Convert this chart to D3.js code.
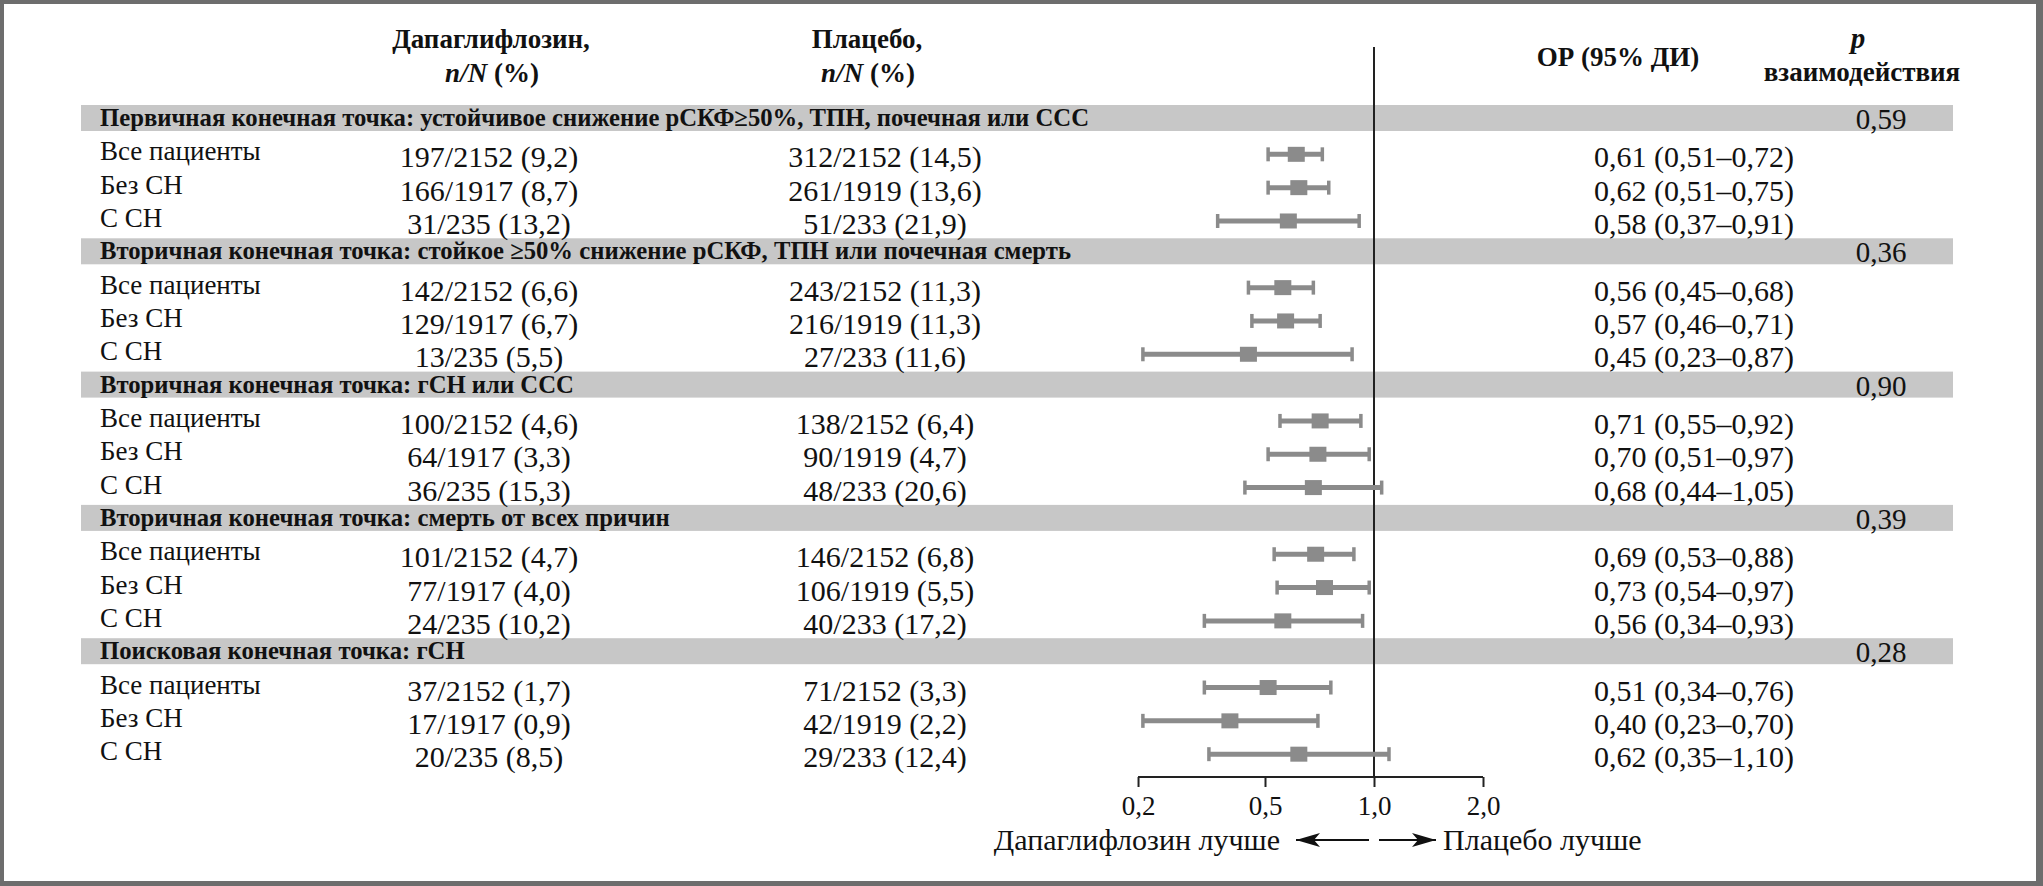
<!DOCTYPE html>
<html>
<head>
<meta charset="utf-8">
<script src="https://cdn.jsdelivr.net/npm/d3@7/dist/d3.min.js"></script>
<style>
  html, body { margin: 0; padding: 0; background: #fff; }
  svg text { font-family: "Liberation Serif", "Times New Roman", serif; fill: #111; }
</style>
</head>
<body>
<svg id="chart" width="2043" height="886"></svg>
<script>
// ---------------- DATA ----------------
const groupTitles = [
  "Первичная конечная точка: устойчивое снижение рСКФ≥50%, ТПН, почечная или ССС",
  "Вторичная конечная точка: стойкое ≥50% снижение рСКФ, ТПН или почечная смерть",
  "Вторичная конечная точка: гСН или ССС",
  "Вторичная конечная точка: смерть от всех причин",
  "Поисковая конечная точка: гСН"
];
const pInteraction = ["0,59", "0,36", "0,90", "0,39", "0,28"];
const subgroups = ["Все пациенты", "Без СН", "С СН"];

const dapaEvents = [197, 166, 31, 142, 129, 13, 100, 64, 36, 101, 77, 24, 37, 17, 20];
const dapaN      = [2152, 1917, 235, 2152, 1917, 235, 2152, 1917, 235, 2152, 1917, 235, 2152, 1917, 235];
const dapaPct    = [9.2, 8.7, 13.2, 6.6, 6.7, 5.5, 4.6, 3.3, 15.3, 4.7, 4.0, 10.2, 1.7, 0.9, 8.5];

const placEvents = [312, 261, 51, 243, 216, 27, 138, 90, 48, 146, 106, 40, 71, 42, 29];
const placN      = [2152, 1919, 233, 2152, 1919, 233, 2152, 1919, 233, 2152, 1919, 233, 2152, 1919, 233];
const placPct    = [14.5, 13.6, 21.9, 11.3, 11.3, 11.6, 6.4, 4.7, 20.6, 6.8, 5.5, 17.2, 3.3, 2.2, 12.4];

const hr     = [0.61, 0.62, 0.58, 0.56, 0.57, 0.45, 0.71, 0.70, 0.68, 0.69, 0.73, 0.56, 0.51, 0.40, 0.62];
const ciLow  = [0.51, 0.51, 0.37, 0.45, 0.46, 0.23, 0.55, 0.51, 0.44, 0.53, 0.54, 0.34, 0.34, 0.23, 0.35];
const ciHigh = [0.72, 0.75, 0.91, 0.68, 0.71, 0.87, 0.92, 0.97, 1.05, 0.88, 0.97, 0.93, 0.76, 0.70, 1.10];

// axis ticks as placed in the original figure
const tickPositions = [0.223, 0.5, 1, 2];
const tickLabels = ["0,2", "0,5", "1,0", "2,0"];

// ---------------- LAYOUT ----------------
const W = 2043, H = 886;
const svg = d3.select("#chart");

const f1 = v => d3.format(".1f")(v).replace(".", ",");
const f2 = v => d3.format(".2f")(v).replace(".", ",");

const x = d3.scaleLog().domain([0.5, 2]).range([1265, 1483]);
const nRowsPerGroup = 4;
const y = d3.scaleLinear().domain([0, groupTitles.length * nRowsPerGroup]).range([118, 118 + 133.3 * groupTitles.length]);

const colDapa = 489, colPlac = 885, colHR = 1694, colP = 1881;
const bandX0 = 81, bandX1 = 1953, bandH = 26;
const gray = "#8b8b8b";

// frame
svg.append("rect").attr("x", 0).attr("y", 0).attr("width", W).attr("height", H).attr("fill", "#6d6d6d");
svg.append("rect").attr("x", 4).attr("y", 4).attr("width", 2036 - 4).attr("height", 881 - 4).attr("fill", "#fff");

// headers
const hdr = svg.append("g").attr("font-weight", "bold").attr("font-size", 27).attr("text-anchor", "middle");
hdr.append("text").attr("x", 491).attr("y", 48).text("Дапаглифлозин,");
const h1 = hdr.append("text").attr("x", 492).attr("y", 82);
h1.append("tspan").attr("font-style", "italic").text("n/N");
h1.append("tspan").text(" (%)");
hdr.append("text").attr("x", 867).attr("y", 48).text("Плацебо,");
const h2 = hdr.append("text").attr("x", 868).attr("y", 82);
h2.append("tspan").attr("font-style", "italic").text("n/N");
h2.append("tspan").text(" (%)");
hdr.append("text").attr("x", 1618).attr("y", 66).text("ОР (95% ДИ)");
hdr.append("text").attr("x", 1858).attr("y", 48).attr("font-style", "italic").attr("font-size", 29).text("p");
hdr.append("text").attr("x", 1862).attr("y", 81).text("взаимодействия");

// group bands
groupTitles.forEach((t, g) => {
  const cy = y(g * nRowsPerGroup);
  svg.append("rect").attr("x", bandX0).attr("y", cy - 13).attr("width", bandX1 - bandX0).attr("height", bandH)
    .attr("fill", "#c7c7c7");
  svg.append("text").attr("x", 100).attr("y", cy + 8).attr("font-weight", "bold").attr("font-size", 24.7).text(t);
  svg.append("text").attr("x", colP).attr("y", cy + 11).attr("text-anchor", "middle").attr("font-size", 29).text(pInteraction[g]);
});

// vertical reference line
svg.append("line").attr("x1", x(1)).attr("x2", x(1)).attr("y1", 47).attr("y2", 777)
  .attr("stroke", "#222").attr("stroke-width", 2);

// rows
hr.forEach((v, i) => {
  const g = Math.floor(i / 3), k = i % 3 + 1;
  const cy = y(g * nRowsPerGroup + k);
  svg.append("text").attr("x", 100).attr("y", cy + 9).attr("font-size", 27).text(subgroups[i % 3]);
  svg.append("text").attr("x", colDapa).attr("y", cy + 16).attr("text-anchor", "middle").attr("font-size", 30)
    .text(`${dapaEvents[i]}/${dapaN[i]} (${f1(dapaPct[i])})`);
  svg.append("text").attr("x", colPlac).attr("y", cy + 16).attr("text-anchor", "middle").attr("font-size", 30)
    .text(`${placEvents[i]}/${placN[i]} (${f1(placPct[i])})`);
  svg.append("text").attr("x", colHR).attr("y", cy + 16).attr("text-anchor", "middle").attr("font-size", 30)
    .text(`${f2(v)} (${f2(ciLow[i])}–${f2(ciHigh[i])})`);

  const my = cy + 3;
  svg.append("line").attr("x1", x(ciLow[i])).attr("x2", x(ciHigh[i])).attr("y1", my).attr("y2", my)
    .attr("stroke", gray).attr("stroke-width", 5);
  [ciLow[i], ciHigh[i]].forEach(c => {
    svg.append("line").attr("x1", x(c)).attr("x2", x(c)).attr("y1", my - 7).attr("y2", my + 7)
      .attr("stroke", gray).attr("stroke-width", 3.5);
  });
  svg.append("rect").attr("x", x(v) - 8.5).attr("y", my - 7.5).attr("width", 17).attr("height", 15).attr("fill", gray);
});

// axis
const axisY = 777;
const axisG = svg.append("g").attr("transform", `translate(0,${axisY})`)
  .call(d3.axisBottom(x).tickValues(tickPositions).tickFormat((d, i) => tickLabels[i]).tickSize(10));
axisG.select(".domain").remove();
axisG.append("line").attr("x1", x(tickPositions[0])).attr("x2", x(tickPositions[tickPositions.length - 1]))
  .attr("y1", 0).attr("y2", 0).attr("stroke", "#222").attr("stroke-width", 2);
axisG.selectAll(".tick line").attr("stroke", "#222").attr("stroke-width", 2);
axisG.selectAll(".tick text").attr("font-family", "Liberation Serif, Times New Roman, serif")
  .attr("font-size", 27).attr("fill", "#111").attr("dy", null).attr("y", 38);

// direction labels and arrows
const defs = svg.append("defs");
defs.append("marker").attr("id", "ah").attr("viewBox", "0 0 24 14").attr("refX", 24).attr("refY", 7)
  .attr("markerWidth", 24).attr("markerHeight", 14).attr("markerUnits", "userSpaceOnUse").attr("orient", "auto")
  .append("path").attr("d", "M0,0 L24,7 L0,14 L6,7 Z").attr("fill", "#111");
const ay = 840, x1 = x(1);
svg.append("line").attr("x1", x1 - 5).attr("x2", x1 - 78).attr("y1", ay).attr("y2", ay)
  .attr("stroke", "#111").attr("stroke-width", 2).attr("marker-end", "url(#ah)");
svg.append("line").attr("x1", x1 + 5).attr("x2", x1 + 62).attr("y1", ay).attr("y2", ay)
  .attr("stroke", "#111").attr("stroke-width", 2).attr("marker-end", "url(#ah)");
svg.append("text").attr("x", 1280).attr("y", 850).attr("text-anchor", "end").attr("font-size", 30).text("Дапаглифлозин лучше");
svg.append("text").attr("x", 1443).attr("y", 850).attr("font-size", 30).text("Плацебо лучше");
</script>
</body>
</html>
